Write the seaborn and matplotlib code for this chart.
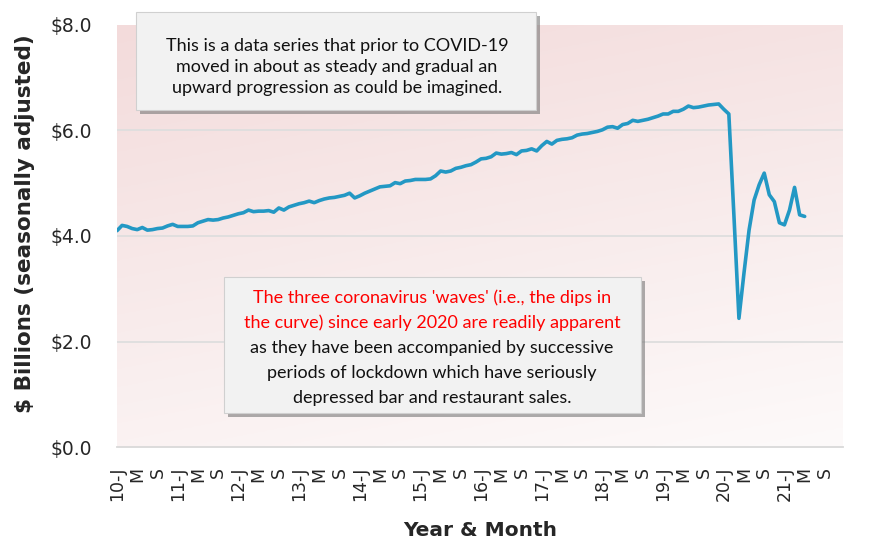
import numpy as np
import pandas as pd
import matplotlib
matplotlib.use("Agg")
import matplotlib.pyplot as plt
import matplotlib.patheffects as pe
from matplotlib.patches import Rectangle
import seaborn as sns

# Monthly sales, Jan 2010 - May 2021 ($ billions, seasonally adjusted)
sales = [
    4.10, 4.20, 4.18, 4.14, 4.12, 4.16, 4.11, 4.12, 4.14, 4.15, 4.19, 4.22,  # 2010
    4.18, 4.18, 4.18, 4.19, 4.25, 4.28, 4.31, 4.30, 4.31, 4.34, 4.36, 4.39,  # 2011
    4.42, 4.44, 4.49, 4.46, 4.47, 4.47, 4.48, 4.45, 4.53, 4.49, 4.55, 4.58,  # 2012
    4.61, 4.63, 4.66, 4.63, 4.67, 4.70, 4.72, 4.73, 4.75, 4.77, 4.81, 4.72,  # 2013
    4.76, 4.81, 4.85, 4.89, 4.93, 4.94, 4.95, 5.01, 4.99, 5.04, 5.05, 5.07,  # 2014
    5.07, 5.07, 5.08, 5.14, 5.23, 5.21, 5.23, 5.28, 5.30, 5.33, 5.35, 5.40,  # 2015
    5.46, 5.47, 5.50, 5.57, 5.55, 5.56, 5.58, 5.54, 5.61, 5.62, 5.65, 5.61,  # 2016
    5.71, 5.79, 5.74, 5.81, 5.83, 5.84, 5.86, 5.91, 5.93, 5.94, 5.96, 5.98,  # 2017
    6.01, 6.06, 6.07, 6.04, 6.11, 6.13, 6.19, 6.17, 6.19, 6.21, 6.24, 6.27,  # 2018
    6.31, 6.31, 6.36, 6.36, 6.40, 6.46, 6.43, 6.44, 6.46, 6.48, 6.49, 6.50,  # 2019
    6.40, 6.31, 4.40, 2.44, 3.30, 4.11, 4.68, 4.97, 5.19, 4.78, 4.65, 4.25,  # 2020
    4.21, 4.49, 4.92, 4.40, 4.37,                                            # 2021
]
years = list(range(2010, 2022))
month_marks = ["J", "M", "S"]

note_top = ("This is a data series that prior to COVID-19\n"
            "moved in about as steady and gradual an\n"
            "upward progression as could be imagined.")
note_red = ["The three coronavirus 'waves' (i.e., the dips in",
            "the curve) since early 2020 are readily apparent"]
note_black = ["as they have been accompanied by successive",
              "periods of lockdown which have seriously",
              "depressed bar and restaurant sales."]

df = pd.DataFrame({"month": np.arange(len(sales)), "sales": sales})

tick_pos = np.arange(0, 12 * len(years), 4)
tick_lab = []
for y in years:
    tick_lab += [f"{y % 100:02d}-J", "M", "S"]

sns.set_style("white")
plt.rcParams["font.family"] = ["DejaVu Sans"]

fig = plt.figure(figsize=(8.7, 5.5), dpi=100)
ax = fig.add_axes([0.1345, 0.187, 0.834, 0.768])

# pink-to-white gradient background
gx, gy = np.meshgrid(np.linspace(0, 1, 200), np.linspace(0, 1, 200))
g = np.clip(0.75 * gy + 0.25 * (1 - gx), 0, 1)
top = np.array([243, 219, 219]) / 255
bot = np.array([253, 250, 250]) / 255
img = bot + (top - bot) * g[..., None]
ax.imshow(img, extent=[0, 1, 0, 1], transform=ax.transAxes, origin="lower",
          aspect="auto", zorder=0)

for v in [2, 4, 6]:
    ax.axhline(v, color="#dedede", lw=1.3, zorder=1)

sns.lineplot(data=df, x="month", y="sales", color="#2398c4", lw=2.6, ax=ax, zorder=3)

ax.set_xlim(0, 143.5)
ax.set_ylim(0, 8)
ax.set_yticks([0, 2, 4, 6, 8])
ax.set_yticklabels([f"${v:.1f}" for v in [0, 2, 4, 6, 8]], fontsize=13.5)
ax.set_xticks(tick_pos)
ax.set_xticklabels(tick_lab, rotation=90, fontsize=12.5)
ax.tick_params(axis="y", length=0, pad=18)
ax.tick_params(axis="x", length=0, pad=14)
for s in ["top", "right", "left"]:
    ax.spines[s].set_visible(False)
ax.spines["bottom"].set_color("#d9d9d9")
ax.spines["bottom"].set_linewidth(1.3)

ax.set_xlabel("Year & Month", fontsize=14.5, fontweight="bold", labelpad=14)
ax.set_ylabel("$ Billions (seasonally adjusted)", fontsize=15.5, fontweight="bold", labelpad=6)
ax.yaxis.set_label_coords(-0.113, 0.53)


def note_box(x0, y0, x1, y1):
    W, H = 870, 550
    r = Rectangle((x0 / W, 1 - y1 / H), (x1 - x0) / W, (y1 - y0) / H,
                  transform=fig.transFigure, facecolor="#f2f2f2",
                  edgecolor="#d0d0d0", lw=0.8, zorder=5)
    r.set_path_effects([pe.SimplePatchShadow(offset=(3, -3), shadow_rgbFace="#777777",
                                             alpha=0.6), pe.Normal()])
    fig.patches.append(r)


note_box(136, 12, 536, 110)
fig.text(337 / 870, 1 - 67 / 550, note_top, ha="center", va="center",
         fontsize=13, linespacing=1.4, color="#111111", family="Lato", zorder=6)

note_box(224, 277, 641, 413)
lines = note_red + note_black
for k, line in enumerate(lines):
    fig.text(432 / 870, 1 - (298 + 25 * k) / 550, line, ha="center", va="center",
             fontsize=13, color="#ff0000" if k < 2 else "#111111", family="Lato", zorder=6)

fig.savefig("out.png", dpi=100)
